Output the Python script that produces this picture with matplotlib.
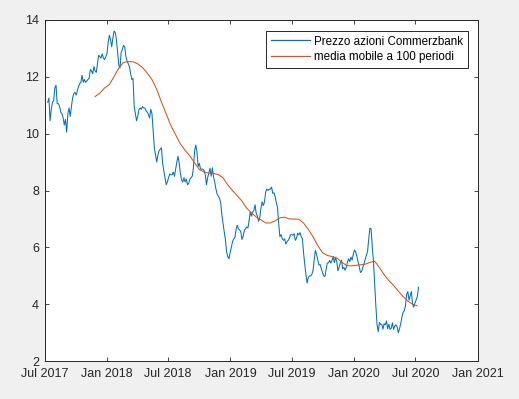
import matplotlib
matplotlib.use("Agg")
import matplotlib.pyplot as plt
import pandas as pd

# Commerzbank share price, sampled about twice a week (Jul 2017 - Jul 2020)
price = [
    11.1, 11.25, 10.45, 10.85, 11.1, 11.15, 11.6, 11.7, 11.05, 11.05,
    10.95, 10.75, 10.7, 10.55, 10.3, 10.5, 10.05, 10.7, 10.9, 10.6,
    10.95, 11.25, 11.4, 11.45, 11.35, 11.5, 11.65, 11.75, 11.8, 12.05,
    11.8, 11.9, 11.8, 11.85, 11.9, 11.95, 12.25, 12.2, 12.1, 12.35,
    12.2, 12.15, 12.45, 12.75, 12.7, 12.65, 12.8, 12.65, 12.6, 12.7,
    12.8, 13.2, 13.45, 13.3, 13.05, 13.35, 13.6, 13.55, 13.3, 12.85,
    12.4, 12.3, 12.85, 12.95, 13.1, 13.05, 12.7, 12.55, 12.45, 12.35,
    12.1, 11.9, 11.94, 10.95, 10.7, 10.45, 10.6, 10.85, 10.9, 10.85,
    10.95, 10.9, 10.9, 10.8, 10.75, 10.68, 10.55, 10.85, 10.7, 10.1,
    9.5, 9.25, 9.0, 9.25, 9.4, 9.45, 9.5, 8.95, 8.7, 8.45,
    8.2, 8.3, 8.45, 8.58, 8.55, 8.55, 8.65, 8.5, 8.75, 9.0,
    9.2, 8.95, 8.6, 8.37, 8.3, 8.45, 8.3, 8.4, 8.2, 8.25,
    8.4, 8.45, 8.5, 8.8, 9.4, 9.6, 9.35, 8.85, 8.95, 8.75,
    8.75, 8.75, 8.7, 8.55, 8.2, 8.45, 8.62, 8.78, 8.5, 8.8,
    8.47, 8.3, 8.05, 7.88, 7.8, 7.73, 7.57, 7.15, 6.85, 6.55,
    6.28, 5.85, 5.68, 5.6, 5.82, 6.0, 6.2, 6.3, 6.35, 6.63,
    6.78, 6.65, 6.62, 6.55, 6.28, 6.4, 6.6, 6.66, 6.72, 6.68,
    6.95, 7.25, 7.1, 7.24, 7.3, 7.5, 7.2, 7.1, 6.92, 7.05,
    7.38, 7.6, 7.47, 7.6, 7.95, 8.05, 8.0, 8.05, 8.05, 8.12,
    7.9, 7.92, 7.78, 7.57, 7.4, 6.82, 6.38, 6.45, 6.3, 6.25,
    6.3, 6.12, 6.2, 6.25, 6.32, 6.45, 6.45, 6.43, 6.48, 6.25,
    6.32, 6.5, 6.44, 6.52, 6.38, 6.3, 5.8, 5.4, 5.05, 4.75,
    4.95, 5.0, 5.0, 5.06, 5.2, 5.58, 5.9, 5.75, 5.56, 5.38,
    5.4, 5.24, 5.12, 5.0, 4.98, 5.22, 5.45, 5.46, 5.54, 5.45,
    5.55, 5.68, 5.47, 5.65, 5.5, 5.18, 5.3, 5.45, 5.55, 5.25,
    5.3, 5.2, 5.3, 5.48, 5.6, 5.5, 5.66, 5.56, 5.77, 5.91,
    5.84, 5.68, 5.5, 5.32, 5.12, 5.15, 5.3, 5.43, 5.58, 5.72,
    5.86, 6.3, 6.68, 6.65, 6.0, 5.5, 4.7, 3.95, 3.3, 3.04,
    3.36, 3.3, 3.3, 3.13, 3.32, 3.28, 3.42, 3.14, 3.3, 3.12,
    3.16, 3.35, 3.12, 3.24, 3.28, 3.2, 3.0, 3.15, 3.32, 3.55,
    3.72, 3.78, 3.95, 4.35, 4.45, 4.15, 4.3, 4.45, 4.0, 3.9,
    4.05, 4.15, 4.27, 4.6,
]
price_start = "2017-07-10"
price_end = "2020-07-10"

# 100-period moving average, read every two weeks
ma = [
    11.3, 11.42, 11.6, 11.72, 12.0, 12.3, 12.5, 12.53, 12.52, 12.45,
    12.32, 12.13, 11.9, 11.56, 11.11, 10.7, 10.28, 9.96, 9.64, 9.41,
    9.22, 8.97, 8.74, 8.65, 8.61, 8.6, 8.56, 8.45, 8.2, 8.0,
    7.82, 7.63, 7.38, 7.22, 7.07, 6.97, 6.86, 6.86, 6.93, 7.04,
    7.06, 7.0, 7.0, 6.99, 6.86, 6.64, 6.38, 6.07, 5.82, 5.72,
    5.68, 5.63, 5.5, 5.37, 5.35, 5.37, 5.39, 5.41, 5.47, 5.52,
    5.3, 5.05, 4.84, 4.67, 4.47, 4.28, 4.12, 4.01, 3.95,
]
ma_start = "2017-11-27"

legend_labels = ["Prezzo azioni Commerzbank", "media mobile a 100 periodi"]
xtick_labels = ["Jul 2017", "Jan 2018", "Jul 2018", "Jan 2019",
                "Jul 2019", "Jan 2020", "Jul 2020", "Jan 2021"]
xtick_dates = ["2017-07-01", "2018-01-01", "2018-07-01", "2019-01-01",
               "2019-07-01", "2020-01-01", "2020-07-01", "2021-01-01"]
yticks = [2, 4, 6, 8, 10, 12, 14]

price_dates = pd.date_range(price_start, price_end, periods=len(price))
ma_dates = pd.date_range(ma_start, periods=len(ma), freq="14D")

plt.rcParams["font.family"] = ["Liberation Sans", "DejaVu Sans"]
axcol = "#262626"

fig = plt.figure(figsize=(5.19, 3.99), dpi=100, facecolor="#f0f0f0")
ax = fig.add_axes([0.0861, 0.0945, 0.8343, 0.8561])
ax.set_facecolor("white")

ax.plot(price_dates, price, color="#0072BD", lw=0.75, label=legend_labels[0])
ax.plot(ma_dates, ma, color="#D95319", lw=0.75, label=legend_labels[1])

xt = pd.to_datetime(xtick_dates)
ax.set_xlim(xt[0], xt[-1])
ax.set_xticks(xt)
ax.set_xticklabels(xtick_labels)
ax.set_ylim(2, 14)
ax.set_yticks(yticks)
ax.set_yticklabels([str(v) for v in yticks])

for s in ax.spines.values():
    s.set_color(axcol)
    s.set_linewidth(0.7)
ax.tick_params(direction="in", length=3, width=0.6, colors=axcol,
               labelsize=9, top=True, right=True, pad=4)
ax.tick_params(axis="x", pad=5)

leg = ax.legend(loc="upper right", bbox_to_anchor=(0.977, 0.968),
                borderaxespad=0, fancybox=False, framealpha=1,
                edgecolor=axcol, fontsize=8.4, handlelength=3.3,
                handletextpad=0.35, borderpad=0.42, labelspacing=0.3)
leg.get_frame().set_linewidth(0.7)
for t in leg.get_texts():
    t.set_color("black")
for h in leg.get_lines():
    h.set_linewidth(0.9)

fig.savefig("out.png", dpi=100, facecolor=fig.get_facecolor())
